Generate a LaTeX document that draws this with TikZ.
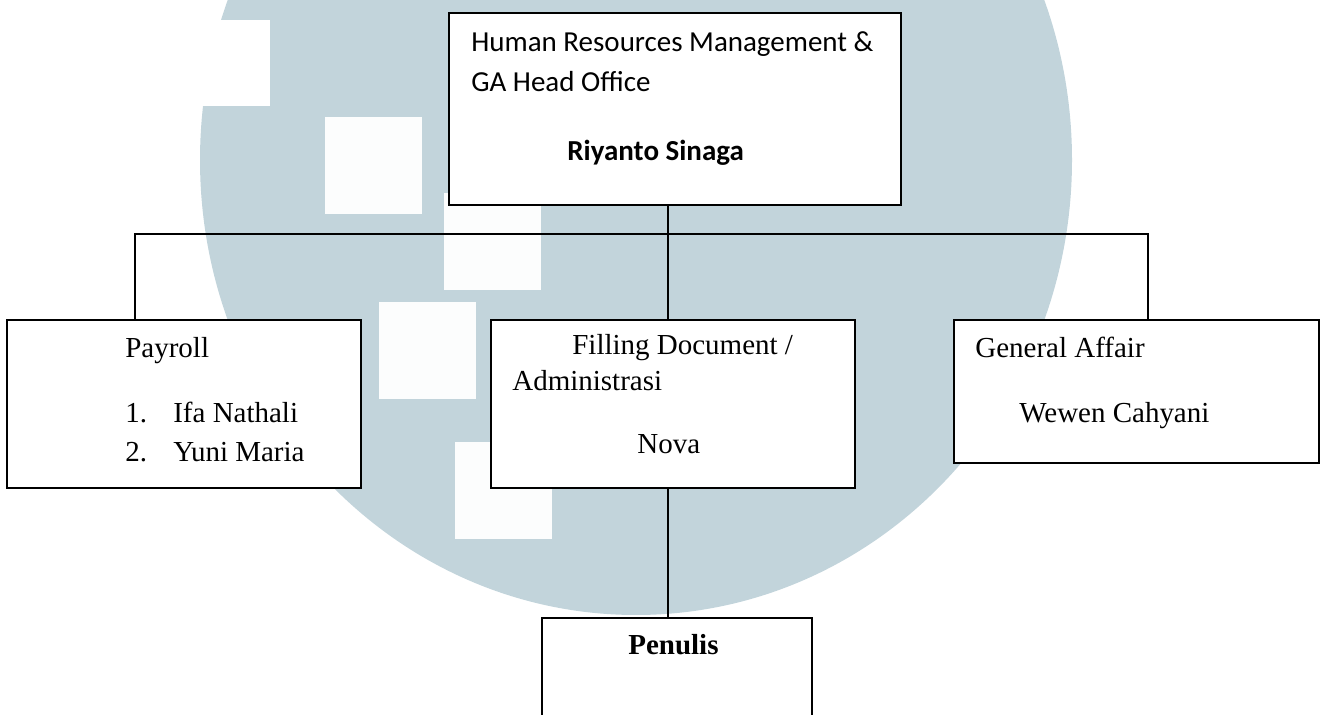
\documentclass[tikz,border=0pt]{standalone}
\usepackage{fontspec}
\setmainfont{Liberation Serif}
\newfontfamily\calibri{Carlito}
\usepackage{tikz}
\definecolor{umnblue}{RGB}{194,212,219}
\newcommand{\wmsquare}[2]{
    \fill[white!96!umnblue] (#1,#2) rectangle ++(97,97);
}

\begin{document}
\begin{tikzpicture}[x=0.02cm,y=-0.02cm,
        box/.style={draw,line width=1.1pt,fill=white,inner sep=0pt,outer sep=0pt,anchor=north west},
        lbl/.style={inner sep=0pt,anchor=base west,font=\fontsize{16.5}{20}\selectfont},
        link/.style={line width=1pt}]
    \useasboundingbox (0,0) rectangle (1325,715);
    \clip (0,0) rectangle (1325,715);
    % watermark behind the chart
    \fill[umnblue] (636,160) ellipse [x radius=436, y radius=455];
    \fill[white] (190,20) rectangle (270,106);
    \wmsquare{325}{117}
    \wmsquare{444}{193}
    \wmsquare{379}{302}
    \wmsquare{455}{442}

    \node[box,minimum width=9.04cm,minimum height=3.84cm] (head) at (449,13) {};
    \node[box,minimum width=7.08cm,minimum height=3.36cm] (payroll) at (7,320) {};
    \node[box,minimum width=7.28cm,minimum height=3.36cm] (filling) at (491,320) {};
    \node[box,minimum width=7.30cm,minimum height=2.86cm] (general) at (954,320) {};
    \node[box,minimum width=5.40cm,minimum height=2.60cm] (penulis) at (542,618) {};

    \node[lbl,font=\calibri\fontsize{16.5}{20}\selectfont] (headA) at (471,52) {Human Resources Management \&};
    \node[lbl,font=\calibri\fontsize{16.5}{20}\selectfont] (headB) at (471,92) {GA Head Office};
    \node[lbl,font=\calibri\bfseries\fontsize{16.5}{20}\selectfont] (headC) at (567,161) {Riyanto Sinaga};

    \node[lbl] (payA) at (125,358) {Payroll};
    \node[lbl] (payB) at (125,423) {\makebox[0.96cm][l]{1.}Ifa Nathali};
    \node[lbl] (payC) at (125,462) {\makebox[0.96cm][l]{2.}Yuni Maria};

    \node[lbl] (filA) at (572,355) {Filling Document /};
    \node[lbl] (filB) at (512,391) {Administrasi};
    \node[lbl] (filC) at (637,454) {Nova};

    \node[lbl] (genA) at (975,358) {General Affair};
    \node[lbl] (genB) at (1019,423) {Wewen Cahyani};

    \node[lbl,font=\bfseries\fontsize{16.5}{20}\selectfont] (penA) at (628,655) {Penulis};

    \coordinate (bus) at (668,234);
    \coordinate (busL) at (135,234);
    \coordinate (busR) at (1148,234);
    \draw[link] (bus |- head.south) -- (bus |- filling.north);
    \draw[link] (bus |- filling.south) -- (bus |- penulis.north);
    \draw[link] (busL |- payroll.north) |- (busR) -- (busR |- general.north);
\end{tikzpicture}
\end{document}
